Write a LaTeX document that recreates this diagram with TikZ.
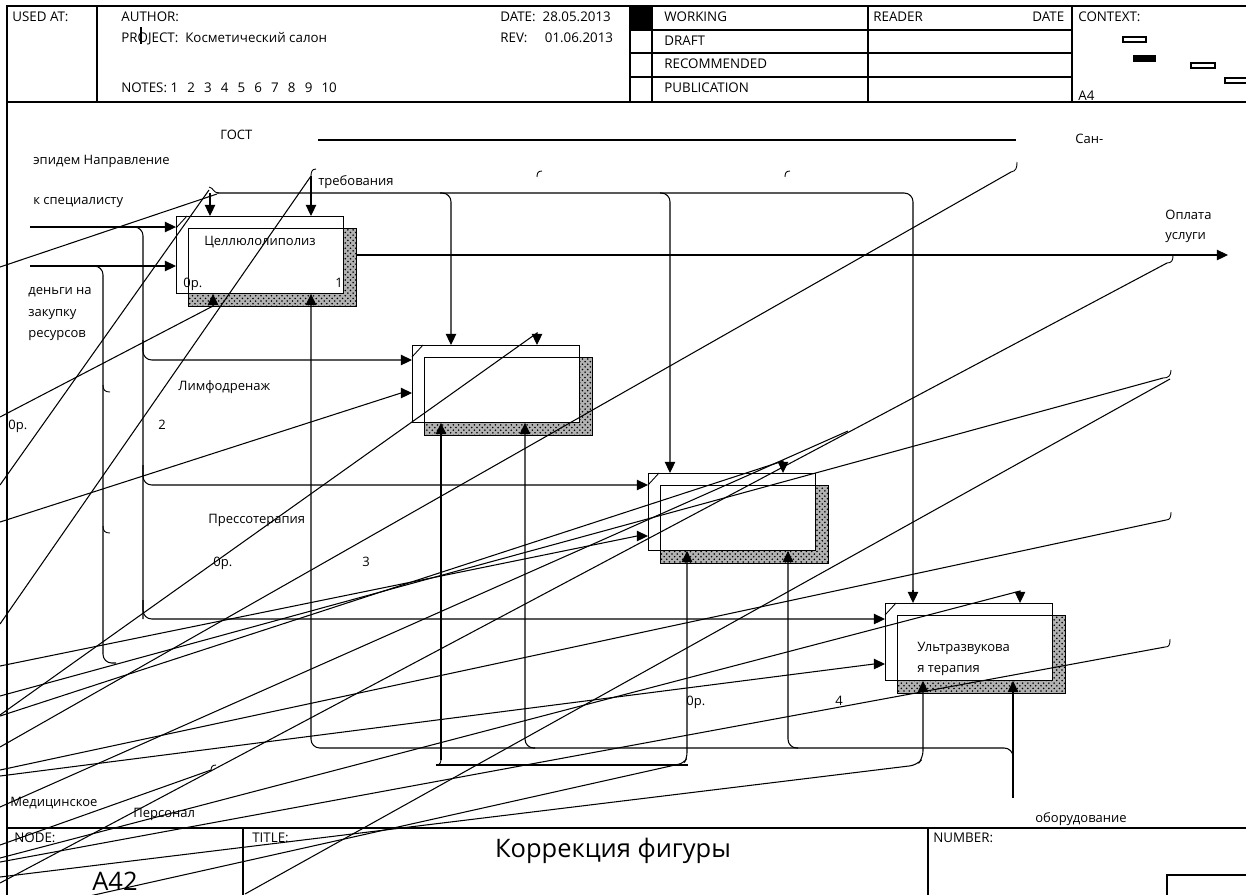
\documentclass[tikz,border=0pt]{standalone}
\usepackage{fontspec}
\setmainfont{Open Sans}
\usetikzlibrary{arrows.meta,patterns}
\newcommand\notegap{\hspace{5.2pt}}

\begin{document}
\begin{tikzpicture}[x=0.02cm,y=-0.02cm,
  ln/.style={line width=0.6pt},
  arr/.style={ln,-{Triangle[length=6.4pt,width=6pt]}},
  lbl/.style={font=\fontsize{7.4}{8}\selectfont,inner sep=0pt,anchor=base west},
  hdr/.style={font=\fontsize{7.6}{8}\selectfont,inner sep=0pt,anchor=base west},
  idefbox/.style={draw,ln,inner sep=0pt,anchor=north west,
    minimum width=3.34cm,minimum height=1.54cm},
  squig/.style={line width=0.5pt}]

\useasboundingbox (0,0) rectangle (1246,894);
\clip (0,0) rectangle (1246,894);
\fill[white] (0,0) rectangle (1246,894);

% frame, header and footer
\draw[ln] (7,900) -- (7,6) -- (1260,6);
\draw[ln] (7,102) -- (1260,102);
\draw[ln] (7,828) -- (1260,828);
\foreach \cx in {97,630,652,868,1072} \draw[ln] (\cx,6) -- (\cx,102);
\foreach \ry in {30,53,77} \draw[ln] (630,\ry) -- (1072,\ry);
\fill (630,6) rectangle (652,30);
\draw[ln] (243,828) -- (243,900);
\draw[ln] (928,828) -- (928,900);
\draw[ln] (1167,875) rectangle (1270,910);
\draw[ln] (1123,37) rectangle (1146,42);
\fill (1133,55) rectangle (1156,62);
\draw[ln] (1191,63) rectangle (1215,68);
\draw[ln] (1225,78) rectangle (1252,83);
\draw[ln] (141,27) -- (141,44);

\node[hdr] (usedat) at (12,21) {USED AT:};
\node[hdr] (author) at (121,21) {AUTHOR:};
\node[hdr] (project) at (121,42) {PROJECT:\ \ Косметический салон};
\node[hdr] (notes) at (121,92) {NOTES: 1\notegap 2\notegap 3\notegap 4\notegap 5\notegap
  6\notegap 7\notegap 8\notegap 9\notegap 10};
\node[hdr] (date) at (500,21) {DATE:\ \ 28.05.2013};
\node[hdr] (rev) at (500,42) {REV:\ \ \ \ \ 01.06.2013};
\node[hdr] (working) at (664,21) {WORKING};
\node[hdr] (draft) at (664,45) {DRAFT};
\node[hdr] (recomm) at (664,68) {RECOMMENDED};
\node[hdr] (publ) at (664,92) {PUBLICATION};
\node[hdr] (reader) at (873,21) {READER};
\node[hdr] (rdate) at (1032,21) {DATE};
\node[hdr] (context) at (1078,21) {CONTEXT:};
\node[hdr] (afour) at (1078,100) {A4};
\node[hdr] (nodelbl) at (14,842) {NODE:};
\node[hdr] (titlelbl) at (252,842) {TITLE:};
\node[hdr] (numberlbl) at (933,842) {NUMBER:};
\node[font=\fontsize{14.5}{16}\selectfont,inner sep=0pt] (title) at (613,851) {Коррекция фигуры};
\node[font=\fontsize{14.5}{16}\selectfont,inner sep=0pt,anchor=base west] (nodenum) at (92,890) {A42};

% activity boxes with hatched shadow
\foreach \n/\bx/\by in {1/176/216,2/412/345,3/648/473,4/885/603} {
  \fill[black!30] (\bx+12,\by+12) rectangle (\bx+180,\by+90);
  \fill[pattern=crosshatch dots] (\bx+12,\by+12) rectangle (\bx+180,\by+90);
  \draw[line width=0.5pt] (\bx+12,\by+12) rectangle (\bx+180,\by+90);
  \draw[line width=0.5pt,fill=white] (\bx+12,\by+12) rectangle (\bx+167,\by+77);
  \node[idefbox,line width=0.5pt] (b\n) at (\bx,\by) {};
  \draw[line width=0.5pt] (\bx,\by+12) -- (\bx+11,\by);
}

% labels
\node[lbl] (gost) at (220,139) {ГОСТ};
\node[lbl] (epid) at (33,164) {эпидем Направление};
\node[lbl] (spec) at (33,204) {к специалисту};
\node[lbl] (treb) at (318,185) {требования};
\node[lbl] (san) at (1075,143) {Сан-};
\node[lbl] (opl1) at (1165,219) {Оплата};
\node[lbl] (opl2) at (1165,239) {услуги};
\node[lbl] (den1) at (28,294) {деньги на};
\node[lbl] (den2) at (28,316) {закупку};
\node[lbl] (den3) at (28,337) {ресурсов};
\node[lbl] (t1) at (204,245) {Целлюлолиполиз};
\node[lbl] (c1) at (183,287) {0р.};
\node[lbl] (n1) at (335,287) {1};
\node[lbl] (t2) at (178,390) {Лимфодренаж};
\node[lbl] (c2) at (8,429) {0р.};
\node[lbl] (n2) at (158,429) {2};
\node[lbl] (t3) at (208,523) {Прессотерапия};
\node[lbl] (c3) at (213,566) {0р.};
\node[lbl] (n3) at (362,566) {3};
\node[lbl] (t4a) at (917,651) {Ультразвукова};
\node[lbl] (t4b) at (917,672) {я терапия};
\node[lbl] (c4) at (686,705) {0р.};
\node[lbl] (n4) at (835,705) {4};
\node[lbl] (med) at (10,806) {Медицинское};
\node[lbl] (pers) at (133,817) {Персонал};
\node[lbl] (obor) at (1035,822) {оборудование};

% inputs
\draw[arr] (30,227) -- (b1.west |- 0,227);
\draw[arr] (30,266) -- (b1.west |- 0,266);
\draw[ln,rounded corners=5] (130,227) -- (143,227) -- (143,619);
\draw[arr,rounded corners=5] (143,600) -- (143,619) -- (b4.west |- 0,619);
\draw[arr,rounded corners=5] (143,340) -- (143,360) -- (b2.west |- 0,360);
\draw[arr,rounded corners=5] (143,465) -- (143,485) -- (b3.west |- 0,485);
\draw[ln,rounded corners=5] (90,266) -- (103,266) -- (103,663) -- (116,663);
\draw[squig] (103,385) .. controls (103,390) and (105,392) .. (110,392);
\draw[squig] (103,526) .. controls (103,531) and (105,533) .. (110,533);

% controls
\draw[ln] (318,140) -- (1016,140);
\draw[ln,rounded corners=5] (217,193) -- (913,193) -- (913,590);
\draw[arr] (913,590) -- (b4.north -| 913,0);
\draw[arr,rounded corners=5] (440,193) -- (451,193) -- (b2.north -| 451,0);
\draw[arr,rounded corners=5] (660,193) -- (670,193) -- (b3.north -| 670,0);
\draw[arr] (210,193) -- (b1.north -| 210,0);
\draw[arr] (311,176) -- (b1.north -| 311,0);
\draw[squig] (209,187) .. controls (214,188) and (213,193) .. (219,193);
\draw[squig] (316,169) .. controls (312,169) and (311,172) .. (311,176);
\draw[squig] (542,171) .. controls (538,171) and (537,173) .. (537,177);
\draw[squig] (790,171) .. controls (786,171) and (785,173) .. (785,177);
\draw[squig] (1017,162) .. controls (1017,168) and (1016,171) .. (1011,172);

% output
\draw[arr] (b1.east |- 0,255) ++(13,0) -- (1228,255);
\draw[squig] (1173,255) .. controls (1173,260) and (1172,263) .. (1167,263);
\draw[squig] (1171,370) .. controls (1171,376) and (1168,378) .. (1163,378);
\draw[squig] (1171,512) .. controls (1171,517) and (1170,520) .. (1166,520);
\draw[squig] (1170,639) .. controls (1170,645) and (1169,647) .. (1165,647);
\draw[squig] (216,765) .. controls (212,765) and (211,767) .. (211,771);

% mechanisms
\draw[ln] (1013,798) -- (1013,760);
\draw[arr] (1013,760) -- (b4.south -| 1013,0);
\draw[arr,rounded corners=5] (1013,760) -- (1013,748) -- (311,748) -- (b1.south -| 311,0);
\draw[arr,rounded corners=5] (535,748) -- (525,748) -- (b2.south -| 525,0);
\draw[arr,rounded corners=5] (798,748) -- (788,748) -- (b3.south -| 788,0);
\draw[arr] (441,760) -- (b2.south -| 441,0);
\draw[squig] (441,758) .. controls (441,763) and (440,765) .. (436,765);
\draw[ln] (436,765) -- (688,765);
\draw[arr,rounded corners=3] (0,916) -- (684,763) -- (687,758) -- (b3.south -| 687,0);
\draw[arr,rounded corners=4] (0,877) -- (917,765) -- (923,758) -- (b4.south -| 923,0);

% displaced connectors ending at arrow tips
\draw[arr] (0,417) -- (213,306) -- (b1.south -| 213,0);
\draw[arr] (0,522) -- (401,393) -- (b2.west |- 0,393);
\draw[arr] (0,715) -- (537,333) -- (b2.north -| 537,0);
\draw[arr] (0,716) -- (783,461) -- (b3.north -| 783,0);
\draw[arr] (0,666) -- (637,536) -- (b3.west |- 0,536);
\draw[arr] (0,858) -- (1020,591) -- (b4.north -| 1020,0);
\draw[arr] (0,776) -- (874,664) -- (b4.west |- 0,664);

% loose label lines
\foreach \ax/\ay/\ex/\ey in {217/194/0/267, 209/190/0/485, 311/176/0/624,
  1011/172/0/747, 0/807/848/431, 1166/520/0/770, 1167/263/0/883,
  1163/378/0/696, 1170/379/245/894, 1165/647/0/862, 211/770/0/845}
  \draw[ln] (\ax,\ay) -- (\ex,\ey);
\end{tikzpicture}
\end{document}
